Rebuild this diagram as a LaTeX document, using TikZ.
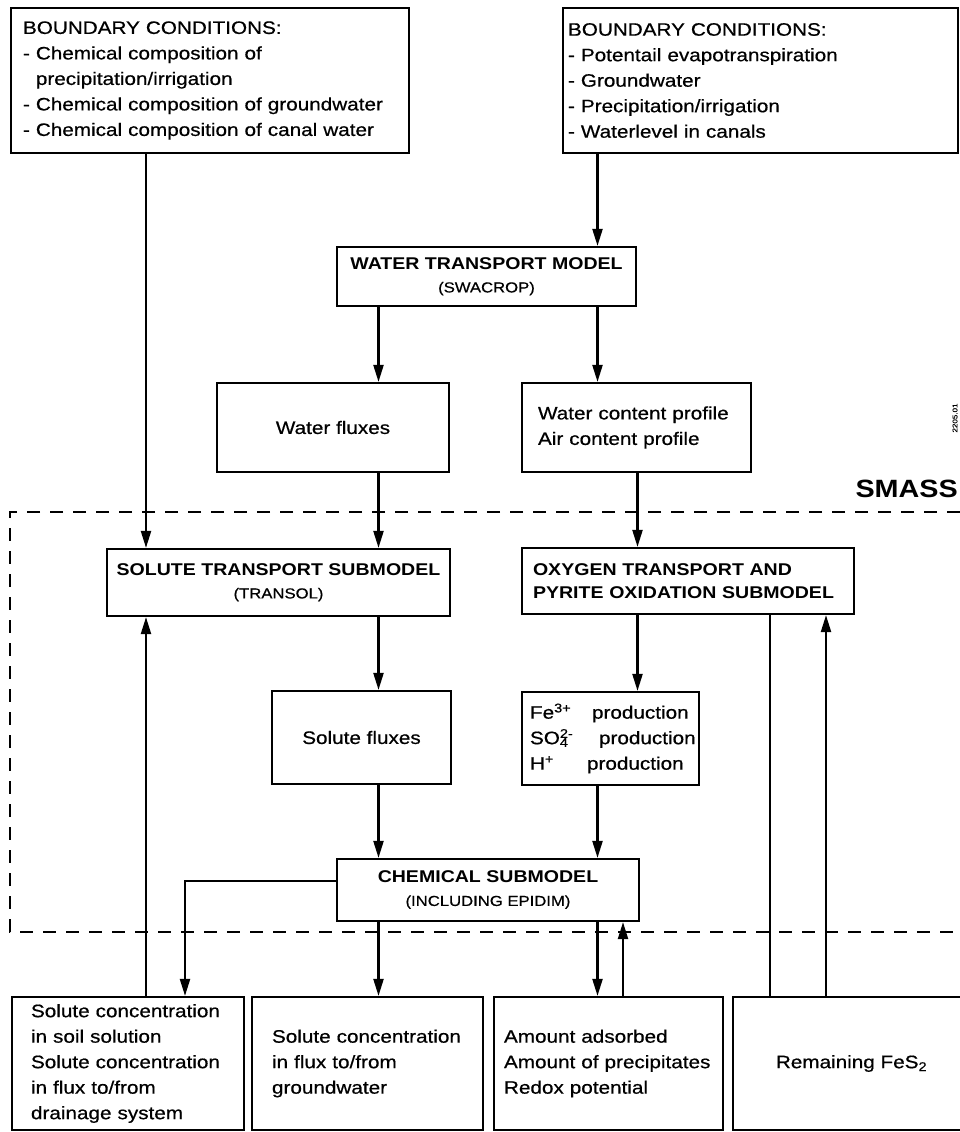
\documentclass[tikz,border=0pt]{standalone}
\usepackage{fontspec}
\setmainfont{Liberation Sans}[FakeStretch=1.15, UprightFeatures={FakeBold=0.6}]
\usetikzlibrary{arrows.meta}

\newcommand{\subname}[1]{{\fontsize{14.5}{18}\mdseries\selectfont #1}}

\begin{document}
\begin{tikzpicture}[x=1pt, y=-1pt,
    box/.style={draw, line width=2.2pt, inner sep=0pt, font={\fontsize{18}{25.5}\selectfont}},
    modelbox/.style={box, align=center, font={\fontsize{17}{23}\selectfont\bfseries}},
    textbox/.style={box, align=left},
    flow/.style={line width=2.2pt, -{Triangle[length=17pt,width=10pt]}},
    link/.style={line width=1.8pt},
    smass/.style={line width=2.8pt, dash pattern=on 13pt off 10pt}]
  \useasboundingbox (0,0) rectangle (960,1132);

  % SMASS frame
  \draw[smass] (960,512) -- (10,512) -- (10,932) -- (960,932);
  \node[font={\fontsize{25}{30}\selectfont\bfseries}, anchor=base east, inner sep=0pt] (smasslabel) at (958,497) {SMASS};
  \node[rotate=90, font={\fontsize{7}{8}\selectfont}, inner sep=0pt] (fignum) at (955,418) {2205.01};

  % Boundary part
  \node[textbox, text width=374pt, inner xsep=12pt, minimum height=145pt] (bcchem) at (210,80.5) {BOUNDARY CONDITIONS:\\- Chemical composition of\\\phantom{- }precipitation/irrigation\\- Chemical composition of groundwater\\- Chemical composition of canal water};
  \node[textbox, text width=385pt, inner xsep=5pt, minimum height=145pt] (bcwater) at (760.5,80.5) {BOUNDARY CONDITIONS:\\- Potentail evapotranspiration\\- Groundwater\\- Precipitation/irrigation\\- Waterlevel in canals};

  % Water part
  \node[modelbox, minimum width=299pt, minimum height=59pt] (water) at (486.5,276.5) {WATER TRANSPORT MODEL\\\subname{(SWACROP)}};
  \node[box, minimum width=232pt, minimum height=89pt] (wflux) at (333,427.5) {Water fluxes};
  \node[textbox, text width=197pt, inner xsep=16pt, minimum height=89pt] (wprofile) at (636.5,427.5) {Water content profile\\Air content profile};

  % Submodel part
  \node[modelbox, align=left, text width=310pt, inner xsep=11pt, minimum height=66pt] (oxygen) at (688,581) {OXYGEN TRANSPORT AND\\PYRITE OXIDATION SUBMODEL};
  \node[modelbox, minimum width=343pt, minimum height=67pt] (solute) at (278.5,582.5) {SOLUTE TRANSPORT SUBMODEL\\\subname{(TRANSOL)}};
  \node[box, minimum width=179pt, minimum height=93pt] (sflux) at (361.5,737.5) {Solute fluxes};
  \node[textbox, text width=161pt, inner xsep=8pt, minimum height=93pt] (prod) at (610.5,738.5) {\makebox[62pt][l]{Fe\textsuperscript{3+}}production\\\makebox[69pt][l]{SO\rlap{\textsuperscript{2-}}\textsubscript{4}}production\\\makebox[57pt][l]{H\textsuperscript{+}}production};
  \node[modelbox, minimum width=302pt, minimum height=62pt] (chem) at (488,890) {CHEMICAL SUBMODEL\\\subname{(INCLUDING EPIDIM)}};

  % Output part
  \node[textbox, text width=194pt, inner xsep=19pt, minimum height=133pt] (out1) at (128,1063.5) {Solute concentration\\in soil solution\\Solute concentration\\in flux to/from\\drainage system};
  \node[textbox, text width=191pt, inner xsep=20pt, minimum height=133pt] (out2) at (367.5,1063.5) {Solute concentration\\in flux to/from\\groundwater};
  \node[textbox, text width=209pt, inner xsep=10pt, minimum height=133pt] (out3) at (608.5,1063.5) {Amount adsorbed\\Amount of precipitates\\Redox potential};
  \node[box, minimum width=237pt, minimum height=133pt] (out4) at (851.5,1063.5) {Remaining FeS\textsubscript{2}};

  % Columns of the connectors
  \coordinate (lcol) at (146,0);
  \coordinate (dcol) at (185,0);
  \coordinate (scol) at (378.5,0);
  \coordinate (wcol) at (597.5,0);
  \coordinate (ucol) at (623,0);
  \coordinate (ocol) at (637.5,0);
  \coordinate (fcol) at (770,0);
  \coordinate (gcol) at (826,0);
  \coordinate (drow) at (0,881);

  \draw[flow] (bcchem.south -| lcol) -- (solute.north -| lcol);
  \draw[flow] (bcwater.south -| wcol) -- (water.north -| wcol);
  \draw[flow] (water.south -| scol) -- (wflux.north -| scol);
  \draw[flow] (water.south -| wcol) -- (wprofile.north -| wcol);
  \draw[flow] (wflux.south -| scol) -- (solute.north -| scol);
  \draw[flow] (wprofile.south -| ocol) -- (oxygen.north -| ocol);
  \draw[flow] (solute.south -| scol) -- (sflux.north -| scol);
  \draw[flow] (oxygen.south -| ocol) -- (prod.north -| ocol);
  \draw[flow] (sflux.south -| scol) -- (chem.north -| scol);
  \draw[flow] (prod.south -| wcol) -- (chem.north -| wcol);
  \draw[flow] (chem.west |- drow) -| (out1.north -| dcol);
  \draw[flow] (chem.south -| scol) -- (out2.north -| scol);
  \draw[flow] (chem.south -| wcol) -- (out3.north -| wcol);
  \draw[flow] (out3.north -| ucol) -- (chem.south -| ucol);
  \draw[flow] (out1.north -| lcol) -- (solute.south -| lcol);
  \draw[link] (out4.north -| fcol) -- (oxygen.south -| fcol);
  \draw[flow] (out4.north -| gcol) -- (oxygen.south -| gcol);
\end{tikzpicture}
\end{document}
